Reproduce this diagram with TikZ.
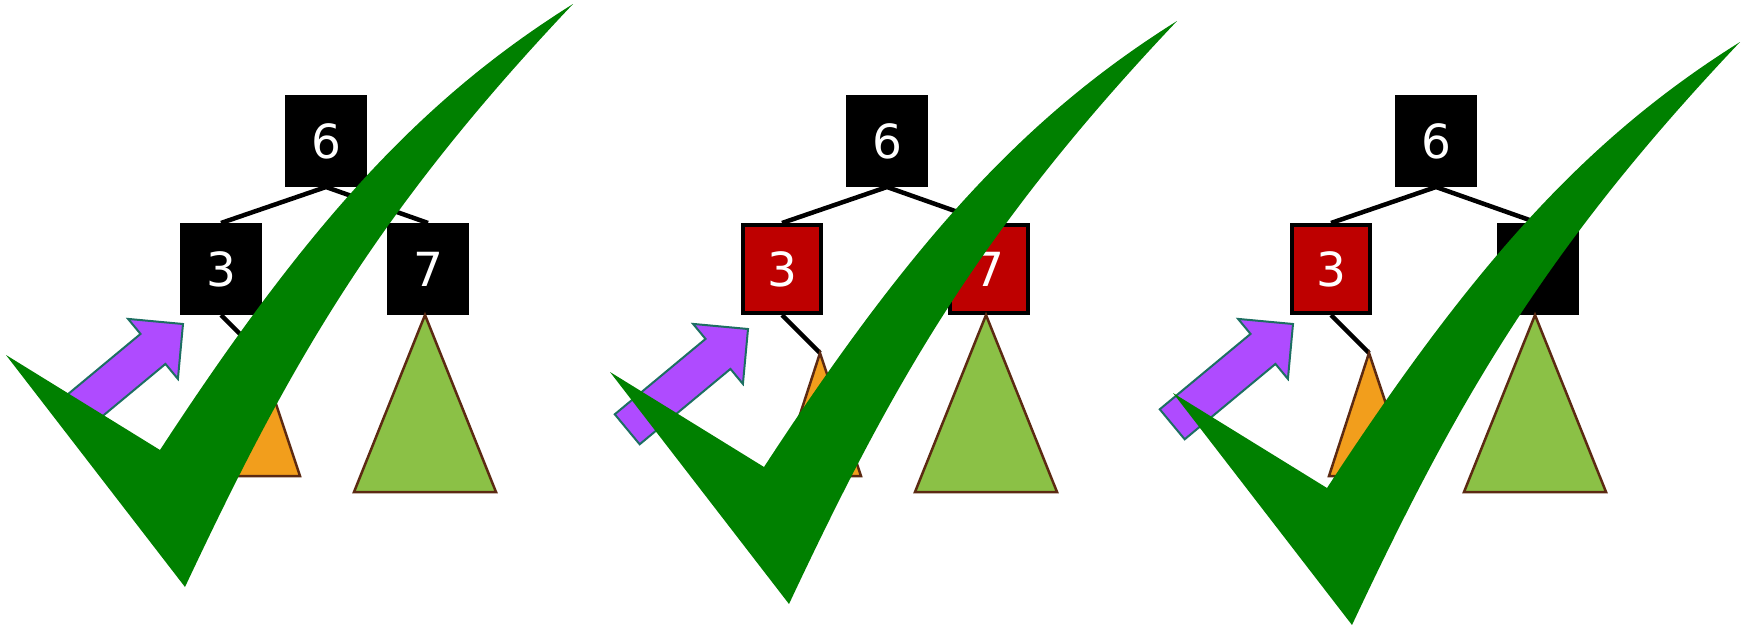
\documentclass[tikz,border=0pt]{standalone}
\usepackage{fontspec}
\setsansfont{DejaVu Sans}
\definecolor{boxred}{HTML}{BE0000}
\definecolor{subA}{HTML}{F29E1C}
\definecolor{subB}{HTML}{8BC146}
\definecolor{rim}{HTML}{5C2A12}
\definecolor{hintfill}{HTML}{AF4BFF}
\definecolor{hintrim}{HTML}{1D6F62}
\definecolor{okgreen}{HTML}{008000}
\usetikzlibrary{positioning, calc}

\begin{document}
\begin{tikzpicture}[x=1pt,y=-1pt,
    key/.style={draw=black,line width=4pt,minimum width=78pt,minimum height=88pt,inner sep=0pt,
      text=white,font=\sffamily\fontsize{47}{56}\selectfont},
    link/.style={line width=4.5pt},
    sub/.style={draw=rim,line width=2.5pt},
    hint/.style={fill=hintfill,draw=hintrim,line width=2pt},
    tick/.style={fill=okgreen}]
  \useasboundingbox (0,0) rectangle (1752,624);
  % panel / root x / fill of 3 / fill of 7 / arrow tip / shift of the tick
  \foreach \i/\x/\lc/\rc/\ax/\ay/\cx/\cy in {1/326/black/black/183/324/0/0,
      2/887/boxred/boxred/748/329/604/17,
      3/1436/boxred/black/1293/324/1167/38} {
    \node[key,fill=black] (root\i) at (\x,141) {6};
    \node[key,fill=\lc,below=36pt of root\i,xshift=-105pt] (left\i) {3};
    \node[key,fill=\rc,below=36pt of root\i,xshift=102pt] (right\i) {7};
    \draw[link] (root\i.south) -- (left\i.north);
    \draw[link] (root\i.south) -- (right\i.north);
    \coordinate (apex\i) at ($(left\i.south)+(38,38)$);
    \draw[link] (left\i.south) -- (apex\i);
    \draw[sub,fill=subA] (apex\i) -- ++(-40,123) -- ++(81,0) -- cycle;
    \draw[sub,fill=subB] ($(right\i.south)+(-3,0)$) -- ++(-71,177) -- ++(142,0) -- cycle;
    % the fat arrow
    \begin{scope}[shift={(\ax,\ay)},rotate=39.7]
      \draw[hint] (0,0) -- (-39,39) -- (-39,19.5) -- (-157,19.5) -- (-157,-19.5)
        -- (-39,-19.5) -- (-39,-39) -- cycle;
    \end{scope}
    % the big tick on top
    \begin{scope}[shift={(\cx,\cy)}]
      \fill[tick] (6,355) -- (160,450) .. controls (310,220) and (423,98) .. (573,4)
        .. controls (373,215) and (287,370) .. (185,587) -- cycle;
    \end{scope}
  }
\end{tikzpicture}
\end{document}
